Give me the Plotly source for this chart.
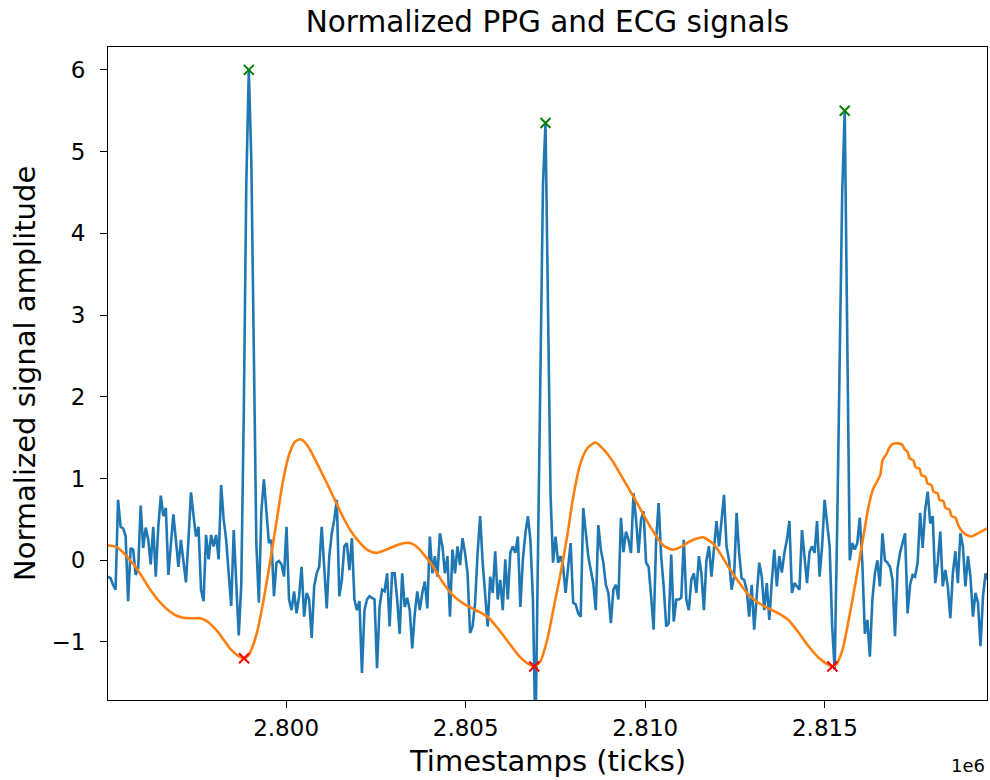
import numpy as np
import plotly.graph_objects as go

# ---------------- data ----------------
# ECG (blue): uniformly sampled, start time and sample interval in ticks
ecg_t0 = 2795042
ecg_dt = 70
ecg_values = [
    -0.20, -0.22, -0.30, -0.36, 0.74, 0.41, 0.39, 0.30, -0.50, 0.15,
    0.13, -0.18, -0.10, 0.67, 0.15, 0.40, 0.25, -0.05, 0.41, -0.20,
    0.41, 0.79, 0.54, 0.64, -0.18, 0.25, 0.56, 0.25, -0.08, 0.25,
    0.02, -0.27, 0.25, 0.83, 0.55, 0.29, 0.41, -0.36, -0.50, 0.31,
    0.01, 0.31, 0.17, 0.31, 0.01, 0.92, 0.50, 0.25, -0.16, -0.56,
    0.37, -0.26, -0.92,
    -0.30, 1.80, 4.60, 6.00, 4.90, 2.40, 0.20, -0.52, 0.60, 0.99,
    0.60, 0.21, 0.25, -0.44, -0.03, -0.01, -0.05, -0.20, 0.41, -0.48,
    -0.61, -0.38, -0.65, -0.44, -0.08, -0.69, -0.40, -0.48, -0.95, -0.32,
    -0.16, -0.08, 0.41, -0.16, -0.59, 0.05, 0.33, 0.50, 0.74, -0.44,
    -0.24, 0.17, 0.21, -0.12, 0.27, -0.48, -0.61, -0.50, -1.38, -0.61,
    -0.48, -0.44, -0.46, -0.48, -1.32, -0.57, -0.36, -0.38, -0.16, -0.81,
    -0.16, -0.16, -0.48, -0.90,
    -0.16, -0.57, -0.46, -0.61, -1.08, -0.65, -0.38, -0.61, -0.40, -0.26,
    -0.59, 0.29, -0.16, 0.05, -0.20, 0.33, 0.17, -0.16, 0.05, -0.69,
    0.13, -0.16, 0.17, -0.06, 0.27, 0.09, -0.16, -0.89, -0.81, -0.52,
    0.09, 0.54, -0.03, -0.44, -0.81, -0.20, -0.40, 0.11, -0.48, -0.24,
    -0.61, 0.01, -0.48, 0.09, 0.17, 0.09, 0.29, -0.57, 0.01, 0.33,
    0.54, 0.25, -0.48,
    -2.20, 0.30, 2.60, 4.60, 5.35, 3.00, 0.80, -0.03,
    0.29, -0.03, 0.05, -0.08, -0.40, -0.08, 0.21, -0.52, -0.54, -0.65,
    -0.69, 0.64, 0.33, 0.05, -0.12, -0.28, -0.61, 0.43, 0.13, -0.03,
    -0.30, -0.40, -0.77, -0.36, -0.30, -0.48, 0.52, 0.10, 0.35, 0.25,
    0.09, 0.82, 0.50, 0.09, 0.50, 0.60, -0.03, -0.08, -0.44, -0.85,
    0.25, 0.70, 0.05, -0.32, -0.81, -0.77, 0.07, -0.75, -0.48, -0.48,
    -0.46, 0.25, -0.48, -0.61,
    -0.24, -0.16, -0.40, 0.05, -0.16, -0.61, 0.00, 0.17, -0.20, 0.17,
    0.48, 0.17, 0.45, 0.80, 0.17, 0.00, -0.36, -0.20, 0.58, 0.09,
    -0.22, -0.24, -0.36, -0.69, -0.30, -0.85, -0.44, -0.03, -0.20, -0.61,
    -0.28, -0.73, -0.26, 0.13, -0.32, 0.05, -0.15, 0.09, 0.25, 0.48,
    -0.40, -0.28, -0.32, -0.36, 0.37, 0.05, -0.28, 0.10, 0.17, 0.09,
    0.48, -0.20, 0.17, 0.74, 0.45, 0.17, -0.80, -1.34,
    0.40, 2.40, 4.50, 5.50, 2.80, 0.00,
    0.21, 0.13, 0.21, 0.52, -0.03, -0.90, -0.73, -1.18, -0.48, -0.16,
    0.00, -0.32, 0.33, 0.00, -0.03, -0.08, -0.24, -0.93, -0.10, 0.09,
    0.21, 0.33, -0.65, -0.30, -0.18, -0.20, -0.03, 0.58, 0.15, 0.62,
    0.84, 0.45, 0.54, -0.28, -0.03, 0.35, -0.32, -0.12, -0.32, -0.71,
    -0.16, 0.11, -0.28, 0.33, 0.17, -0.32, 0.05, -0.20, -0.69, -0.40,
    -0.52, -1.05, -0.44, -0.16, -0.24,
]
ecg_peak_idx = [56, 174, 293]

# PPG (orange)
ppg_times = [
    2795042, 2795237, 2795432, 2795599, 2795794, 2795989, 2796157, 2796352, 2796547, 2796714,
    2796909, 2797104, 2797382, 2797605, 2797772, 2797939, 2798106, 2798274, 2798441, 2798608,
    2798747, 2798831, 2798942, 2799054, 2799193, 2799360, 2799555, 2799750, 2799917, 2800112,
    2800251, 2800391, 2800530, 2800669, 2800948, 2801226, 2801505, 2801783, 2802062, 2802285,
    2802508, 2802786, 2803065, 2803315, 2803455, 2803677, 2803872, 2804067, 2804346, 2804625,
    2804903, 2805182, 2805460, 2805655, 2805906, 2806184, 2806463, 2806714, 2806909, 2807076,
    2807271, 2807438, 2807633, 2807828, 2807995, 2808190, 2808385, 2808608, 2808831, 2809109,
    2809388, 2809666, 2809945, 2810223, 2810502, 2810753, 2810975, 2811198, 2811393, 2811616,
    2811867, 2812034, 2812312, 2812591, 2812870, 2813148, 2813427, 2813705, 2813984, 2814262,
    2814541, 2814819, 2815098, 2815209, 2815321, 2815488, 2815655, 2815850, 2816045, 2816212,
    2816351, 2816463, 2816546, 2816602, 2816714, 2816797, 2816881, 2817048, 2817159, 2817215,
    2817299, 2817354, 2817466, 2817521, 2817633, 2817689, 2817800, 2817856, 2817967, 2818023,
    2818134, 2818190, 2818301, 2818357, 2818468, 2818524, 2818636, 2818719, 2818831, 2818942,
    2819081, 2819221, 2819388, 2819555,
]
ppg_values = [
    0.18, 0.17, 0.11, 0.03, -0.07, -0.20, -0.32, -0.44, -0.54, -0.61,
    -0.67, -0.70, -0.71, -0.71, -0.74, -0.80, -0.88, -0.98, -1.08, -1.15,
    -1.19, -1.20, -1.17, -1.07, -0.88, -0.52, -0.02, 0.52, 0.98, 1.33,
    1.45, 1.48, 1.44, 1.35, 1.11, 0.86, 0.60, 0.37, 0.21, 0.12,
    0.09, 0.13, 0.18, 0.21, 0.21, 0.15, 0.05, -0.06, -0.26, -0.42,
    -0.52, -0.59, -0.65, -0.71, -0.84, -1.00, -1.16, -1.26, -1.30, -1.24,
    -0.97, -0.61, -0.18, 0.30, 0.78, 1.18, 1.37, 1.44, 1.36, 1.20,
    0.99, 0.78, 0.56, 0.35, 0.18, 0.13, 0.16, 0.22, 0.26, 0.28,
    0.21, 0.12, -0.08, -0.26, -0.42, -0.52, -0.59, -0.65, -0.73, -0.88,
    -1.05, -1.19, -1.28, -1.30, -1.27, -1.10, -0.75, -0.28, 0.22, 0.65,
    0.88, 0.97, 1.05, 1.22, 1.30, 1.38, 1.42, 1.43, 1.41, 1.36,
    1.33, 1.25, 1.22, 1.14, 1.12, 1.04, 1.02, 0.94, 0.92, 0.84,
    0.82, 0.74, 0.72, 0.64, 0.62, 0.54, 0.52, 0.42, 0.35, 0.31,
    0.29, 0.32, 0.36, 0.40,
]
ppg_trough_times = [2798831, 2806909, 2815209]

x_ticks = [2800000, 2805000, 2810000, 2815000]
x_tick_labels = ["2.800", "2.805", "2.810", "2.815"]
y_ticks = [-1, 0, 1, 2, 3, 4, 5, 6]
y_tick_labels = ["\u22121", "0", "1", "2", "3", "4", "5", "6"]
x_range = [2795042, 2819513]
y_range = [-1.71, 6.28]

# ---------------- figure ----------------
ecg_t = ecg_t0 + ecg_dt * np.arange(len(ecg_values))
ecg_v = np.array(ecg_values)
ppg_idx = [ppg_times.index(t) for t in ppg_trough_times]

FONT = "DejaVu Sans"
fig = go.Figure()
fig.add_trace(go.Scatter(x=ecg_t, y=ecg_v, mode="lines",
                         line=dict(color="#1f77b4", width=2.6), showlegend=False))
fig.add_trace(go.Scatter(x=ppg_times, y=ppg_values, mode="lines",
                         line=dict(color="#ff7f0e", width=2.6, shape="spline", smoothing=0.6),
                         showlegend=False))
fig.add_trace(go.Scatter(x=ecg_t[ecg_peak_idx], y=ecg_v[ecg_peak_idx], mode="markers",
                         marker=dict(symbol="x-thin", size=10, line=dict(color="#008000", width=2)),
                         showlegend=False))
fig.add_trace(go.Scatter(x=[ppg_times[i] for i in ppg_idx], y=[ppg_values[i] for i in ppg_idx],
                         mode="markers",
                         marker=dict(symbol="x-thin", size=10, line=dict(color="#ff0000", width=2)),
                         showlegend=False))

axis_common = dict(showline=True, mirror=True, linecolor="black", linewidth=1.2,
                   showgrid=False, zeroline=False, ticks="outside", ticklen=7,
                   tickwidth=1.2, tickcolor="black",
                   tickfont=dict(family=FONT, size=23, color="black"))
fig.update_xaxes(range=x_range, tickvals=x_ticks, ticktext=x_tick_labels, **axis_common)
fig.update_yaxes(range=y_range, tickvals=y_ticks, ticktext=y_tick_labels,
                 ticklabelstandoff=10, **axis_common)

fig.update_layout(
    width=990, height=780,
    margin=dict(l=108, r=3, t=47, b=80),
    paper_bgcolor="white", plot_bgcolor="white",
    title=dict(text="Normalized PPG and ECG signals", x=0.553, xanchor="center",
               y=1 - 22 / 780, yanchor="middle",
               font=dict(family=FONT, size=29.5, color="black")),
    annotations=[
        dict(text="Timestamps (ticks)", xref="paper", yref="paper", x=0.5, y=-0.093,
             xanchor="center", yanchor="middle", showarrow=False,
             font=dict(family=FONT, size=29, color="black")),
        dict(text="Normalized signal amplitude", xref="paper", yref="paper", x=-0.095, y=0.5,
             xanchor="center", yanchor="middle", textangle=-90, showarrow=False,
             font=dict(family=FONT, size=29, color="black")),
        dict(text="1e6", xref="paper", yref="paper", x=1.0, y=-0.1,
             xanchor="right", yanchor="middle", showarrow=False,
             font=dict(family=FONT, size=18, color="black")),
    ],
)

fig.write_html("out.html")
